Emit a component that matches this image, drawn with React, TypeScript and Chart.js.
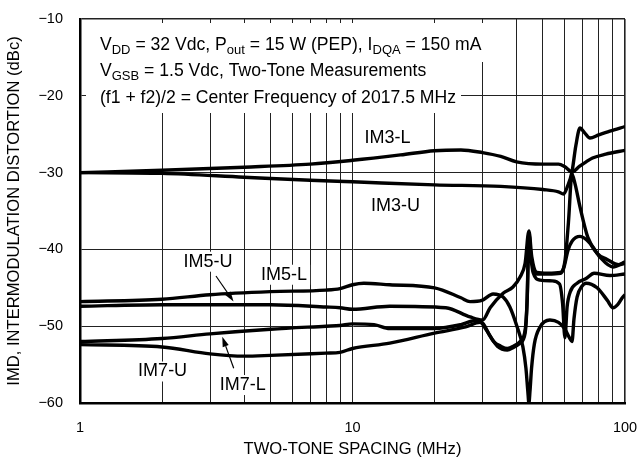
import React, { useEffect, useRef } from "react";
import { Chart, registerables } from "chart.js";
Chart.register(...registerables);

const FONT = '"Liberation Sans Narrow", "Arial Narrow", "Liberation Sans", Arial, sans-serif';

// ---- axis ticks ----
const xTickValues = [1, 2, 3, 4, 5, 6, 7, 8, 9, 10, 20, 30, 40, 50, 60, 70, 80, 90, 100];
const xTickLabels = ["1", "10", "100"];
const yTickValues = [-10, -20, -30, -40, -50, -60];

// ---- series names ----
const seriesNames = ["IM3-L", "IM3-U", "IM5-L", "IM5-U", "IM7-L", "IM7-U"];

// ---- series values (frequency in MHz, IMD in dBc) ----
const im3lFreq = [1, 2, 4, 7, 10, 15, 20, 25, 30, 35, 40, 50, 57, 60, 64, 68, 72, 76, 85, 100];
const im3lDb = [-30.0, -29.7, -29.3, -28.9, -28.4, -27.7, -27.15, -27.05, -27.4, -27.9, -28.6, -28.9, -28.9, -29.2, -29.9, -29.2, -28.6, -28.1, -27.6, -27.1];

const im3uFreq = [1, 2, 4, 7, 10, 20, 35, 50, 57, 59.5, 61.5, 63.9, 66, 68.4, 71, 74.4, 80, 88, 100];
const im3uDb = [-30.0, -30.1, -30.6, -31.0, -31.2, -31.6, -31.8, -32.2, -32.5, -32.8, -31.8, -29.9, -26.5, -24.2, -24.8, -25.5, -25.1, -24.6, -24.0];

const im5lFreq = [1, 2, 3, 5, 8, 9, 10, 11, 13.7, 20, 25, 27, 30, 32.8, 35.7, 37.8, 40.2, 42.2, 43.3, 44.0, 44.4, 44.8, 45.4, 46.5, 48.8, 53, 57, 60, 62.5, 63.9, 65, 66.7, 69.5, 72, 79, 86, 90.4, 94, 97.7, 100];
const im5lDb = [-46.8, -46.5, -45.9, -45.5, -45.3, -45.1, -44.6, -44.4, -44.6, -45.0, -46.3, -46.8, -46.6, -45.8, -46.2, -47.5, -50.1, -52.7, -55.5, -58.5, -60.0, -58.5, -55.5, -52.3, -50.1, -49.2, -49.5, -50.3, -51.5, -52.0, -49.0, -46.2, -44.8, -44.4, -45.0, -46.6, -47.6, -47.2, -46.3, -45.9];

const im5uFreq = [1, 2, 5, 8, 9, 10, 13.7, 22, 27, 30, 32, 35.7, 38.8, 41.2, 43, 44.4, 45.5, 47.5, 52, 58, 60.2, 62, 63.9, 65.6, 68.4, 73, 79, 86, 95, 100];
const im5uDb = [-47.4, -47.2, -47.2, -47.5, -47.6, -47.8, -47.4, -47.6, -48.8, -49.2, -47.6, -45.7, -44.9, -43.6, -41.8, -37.6, -41.0, -43.0, -43.1, -43.0, -41.5, -36.5, -30.2, -31.5, -34.5, -38.4, -40.5, -41.3, -42.0, -41.8];

const im7lFreq = [1, 2, 3, 5, 8, 9, 10, 12, 13.7, 20, 25, 28, 30, 32, 34, 37, 38.8, 41.2, 43, 43.7, 44.4, 45.2, 46.2, 47.5, 52, 58, 59.5, 61.8, 64, 68.4, 74.4, 80.9, 90.4, 97.7, 100];
const im7lDb = [-52.0, -51.6, -51.0, -50.4, -50.0, -49.9, -49.7, -49.8, -50.3, -50.3, -49.8, -49.3, -49.6, -51.3, -52.6, -53.1, -52.8, -52.2, -50.9, -47.0, -37.9, -41.0, -42.6, -43.2, -43.2, -43.1, -42.5, -40.1, -38.9, -38.3, -39.2, -41.0, -42.3, -41.8, -41.6];

const im7uFreq = [1, 2, 3, 4, 5, 8, 9, 10, 13.7, 20, 26, 29.4, 31, 33, 35, 37, 39, 41.2, 43, 43.8, 44.4, 45.0, 46, 48.8, 54, 57.5, 59, 60.2, 61.3, 63, 66.7, 72, 77, 88, 100];
const im7uDb = [-52.4, -52.7, -53.6, -53.9, -53.8, -53.5, -53.4, -52.9, -52.2, -50.9, -50.1, -49.5, -50.5, -52.0, -52.6, -52.9, -52.6, -52.0, -50.5, -46.0, -38.0, -40.5, -43.0, -44.0, -44.1, -44.5, -47.0, -51.5, -47.5, -45.5, -44.4, -43.8, -43.1, -43.4, -43.2];

const seriesFreqs = [im3lFreq, im3uFreq, im5lFreq, im5uFreq, im7lFreq, im7uFreq];
const seriesDbs = [im3lDb, im3uDb, im5lDb, im5uDb, im7lDb, im7uDb];

// ---- annotation texts ----
const infoLine1: [string, boolean][] = [["V", false], ["DD", true], [" = 32 Vdc, P", false], ["out", true], [" = 15 W (PEP), I", false], ["DQA", true], [" = 150 mA", false]];
const infoLine2: [string, boolean][] = [["V", false], ["GSB", true], [" = 1.5 Vdc, Two-Tone Measurements", false]];
const infoLine3: [string, boolean][] = [["(f1 + f2)/2 = Center Frequency of 2017.5 MHz", false]];

// label placement (data coordinates: MHz, dBc)
const labelPlacement: Record<string, [number, number]> = {
  "IM3-L": [13.44, -25.5],
  "IM3-U": [14.38, -34.3],
  "IM5-U": [2.95, -41.6],
  "IM5-L": [5.61, -43.3],
  "IM7-U": [2.01, -55.9],
  "IM7-L": [3.96, -57.66],
};
const arrowPlacement: [number, number, number, number][] = [
  [3.155, -43.46, 3.66, -46.78],
  [3.665, -55.48, 3.328, -51.37],
];

const INFO_SIZE = 17.6;
const SUB_SIZE = 13;
const LABEL_FONT = `18px ${FONT}`;

function drawRich(ctx: CanvasRenderingContext2D, parts: [string, boolean][], x: number, y: number) {
  let cx = x;
  for (const [t, sub] of parts) {
    ctx.font = sub ? `${SUB_SIZE}px ${FONT}` : `${INFO_SIZE}px ${FONT}`;
    ctx.fillText(t, cx, sub ? y + 4 : y);
    cx += ctx.measureText(t).width;
  }
}

const annotationPlugin = {
  id: "annotations",
  beforeDatasetsDraw(chart: any) {
    const { ctx, chartArea: a, scales } = chart;
    const xs = scales.x, ys = scales.y;
    ctx.save();
    ctx.fillStyle = "#ffffff";
    ctx.fillRect(a.left + 6, a.top + 4, 403, 39);
    ctx.fillRect(a.left + 6, a.top + 43, 375, 51);
    ctx.font = LABEL_FONT;
    for (const name of seriesNames) {
      const [f, d] = labelPlacement[name];
      const px = xs.getPixelForValue(f);
      const py = ys.getPixelForValue(d);
      const w = ctx.measureText(name).width;
      ctx.fillRect(px - w / 2 - 3, py - 10, w + 6, 20);
    }
    ctx.restore();
  },
  afterDatasetsDraw(chart: any) {
    const { ctx, chartArea: a, scales } = chart;
    const xs = scales.x, ys = scales.y;
    ctx.save();
    ctx.fillStyle = "#000";
    ctx.textBaseline = "alphabetic";
    ctx.textAlign = "left";
    drawRich(ctx, infoLine1, a.left + 20, a.top + 31);
    drawRich(ctx, infoLine2, a.left + 20, a.top + 57);
    drawRich(ctx, infoLine3, a.left + 20, a.top + 84);

    ctx.font = LABEL_FONT;
    ctx.textAlign = "center";
    ctx.textBaseline = "middle";
    for (const name of seriesNames) {
      const [f, d] = labelPlacement[name];
      ctx.fillText(name, xs.getPixelForValue(f), ys.getPixelForValue(d));
    }
    ctx.strokeStyle = "#000";
    ctx.lineWidth = 1.2;
    for (const [f1, d1, f2, d2] of arrowPlacement) {
      const x1 = xs.getPixelForValue(f1), y1 = ys.getPixelForValue(d1);
      const x2 = xs.getPixelForValue(f2), y2 = ys.getPixelForValue(d2);
      const ang = Math.atan2(y2 - y1, x2 - x1);
      const hl = 10, hw = 3.2;
      const bx = x2 - hl * Math.cos(ang), by = y2 - hl * Math.sin(ang);
      ctx.beginPath();
      ctx.moveTo(x1, y1);
      ctx.lineTo(bx, by);
      ctx.stroke();
      ctx.beginPath();
      ctx.moveTo(x2, y2);
      ctx.lineTo(bx - hw * Math.sin(ang), by + hw * Math.cos(ang));
      ctx.lineTo(bx + hw * Math.sin(ang), by - hw * Math.cos(ang));
      ctx.closePath();
      ctx.fill();
    }
    ctx.restore();
  },
};

function clearPadding(axis: any) {
  axis.paddingLeft = 0;
  axis.paddingRight = 0;
  axis.paddingTop = 0;
  axis.paddingBottom = 0;
}

export default function App() {
  const ref = useRef<HTMLCanvasElement | null>(null);
  useEffect(() => {
    if (!ref.current) return;
    const datasets = seriesNames.map((name, i) => ({
      label: name,
      data: seriesFreqs[i].map((f, j) => ({ x: f, y: seriesDbs[i][j] })),
      borderColor: "#000",
      backgroundColor: "#000",
      borderWidth: 3.4,
      pointRadius: 0,
      cubicInterpolationMode: "monotone" as const,
      fill: false,
    }));
    const chart = new Chart(ref.current, {
      type: "line",
      data: { datasets },
      options: {
        animation: false,
        responsive: false,
        devicePixelRatio: 1,
        layout: { padding: { left: 0, top: 19, right: 17, bottom: 0 } },
        plugins: { legend: { display: false }, tooltip: { enabled: false } },
        scales: {
          x: {
            type: "logarithmic",
            position: "bottom",
            min: 1,
            max: 100,
            afterBuildTicks: (axis: any) => {
              axis.ticks = xTickValues.map((v) => ({ value: v }));
            },
            afterFit: (axis: any) => {
              axis.height = 71;
              clearPadding(axis);
            },
            ticks: {
              autoSkip: false,
              maxRotation: 0,
              padding: 16,
              color: "#000",
              font: { family: FONT, size: 14.5 },
              callback: (v: any) => (xTickLabels.includes(String(v)) ? String(v) : ""),
            },
            grid: {
              color: "#222",
              lineWidth: (c: any) => (c.tick && c.tick.value === 100 ? 1.6 : 1),
              drawTicks: false,
            },
            border: { color: "#000", width: 2.5 },
            title: {
              display: true,
              text: "TWO-TONE SPACING (MHz)",
              color: "#000",
              font: { family: FONT, size: 16.6 },
              padding: { top: 0, bottom: 15 },
            },
          },
          y: {
            type: "linear",
            min: -60,
            max: -10,
            afterBuildTicks: (axis: any) => {
              axis.ticks = yTickValues.map((v) => ({ value: v }));
            },
            afterFit: (axis: any) => {
              axis.width = 80;
              clearPadding(axis);
            },
            ticks: {
              padding: 17,
              color: "#000",
              font: { family: FONT, size: 14.5 },
              callback: (v: any) => String(v).replace("-", "\u2212"),
            },
            grid: {
              color: "#222",
              lineWidth: (c: any) => (c.tick && c.tick.value === -10 ? 1.6 : 1),
              drawTicks: false,
            },
            border: { color: "#000", width: 2.5 },
            title: {
              display: true,
              text: "IMD, INTERMODULATION DISTORTION (dBc)",
              color: "#000",
              font: { family: FONT, size: 16.6 },
              padding: { top: 4, bottom: 0 },
            },
          },
        },
      },
      plugins: [annotationPlugin],
    });
    return () => chart.destroy();
  }, []);
  return (
    <div style={{ position: "fixed", left: 0, top: 0, width: 642, height: 474, background: "#fff" }}>
      <canvas ref={ref} width={642} height={474} style={{ width: 642, height: 474 }} />
    </div>
  );
}
